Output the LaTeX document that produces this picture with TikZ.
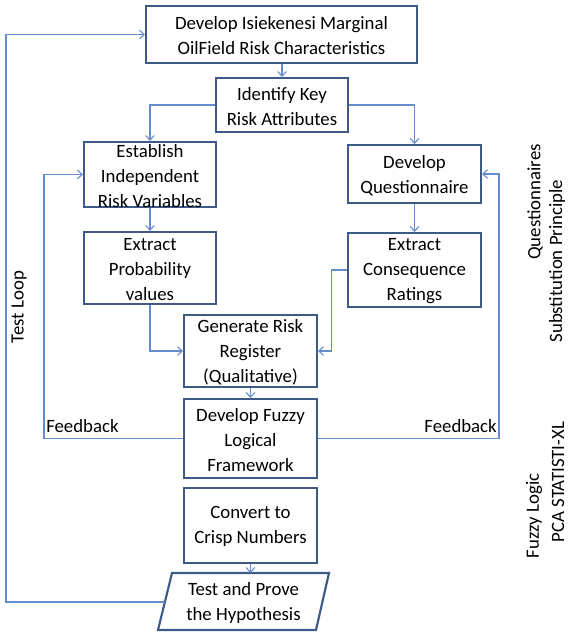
\documentclass[tikz,border=0pt]{standalone}
\usepackage{fontspec}
\setmainfont{Carlito}
\usetikzlibrary{arrows.meta}
\definecolor{boxc}{RGB}{62,90,135}
\definecolor{linec}{RGB}{100,140,205}
\begin{document}
\begin{tikzpicture}[x=0.75pt,y=-0.75pt,
  box/.style 2 args={draw=boxc,line width=1.6pt,rectangle,inner sep=0pt,minimum width=0.75*#1pt,minimum height=0.75*#2pt},
  txt/.style={inner sep=0pt,align=center,yshift=-1pt,font=\fontsize{14.1pt}{18.75pt}\selectfont},
  conn/.style={draw=linec,line width=0.8pt,-{Straight Barb[length=3.5pt,width=6.5pt]}},
  lbl/.style={inner sep=0pt,font=\fontsize{14.1pt}{18.75pt}\selectfont}]
\useasboundingbox (0,0) rectangle (568,632);
% boxes
\node[box={271}{57}] (top) at (281.5,34.5) {};
\node[txt] (topt) at (top) {Develop Isiekenesi Marginal\\OilField Risk Characteristics};
\node[box={132}{54}] (ident) at (282,105) {};
\node[txt] (identt) at (ident) {Identify Key\\Risk Attributes};
\node[box={132}{65}] (est) at (150,174.5) {};
\node[txt] (estt) at (est) {Establish\\Independent\\Risk Variables};
\node[box={133}{58}] (quest) at (414.5,174) {};
\node[txt] (questt) at (quest) {Develop\\Questionnaire};
\node[box={132}{72}] (prob) at (150,268) {};
\node[txt] (probt) at (prob) {Extract\\Probability\\values};
\node[box={133}{74}] (cons) at (414.5,270) {};
\node[txt] (const) at (cons) {Extract\\Consequence\\Ratings};
\node[box={133}{72}] (gen) at (250.5,351) {};
\node[txt] (gent) at (gen) {Generate Risk\\Register\\(Qualitative)};
\node[box={133}{79}] (fuzzy) at (250.5,438.5) {};
\node[txt] (fuzzyt) at (fuzzy) {Develop Fuzzy\\Logical\\Framework};
\node[box={133}{75}] (conv) at (250.5,525.5) {};
\node[txt] (convt) at (conv) {Convert to\\Crisp Numbers};
% parallelogram
\coordinate (pbl) at (158,630);
\coordinate (ptl) at (172,573);
\coordinate (ptr) at (329,573);
\coordinate (pbr) at (316,630);
\draw[boxc,line width=1.6pt,line join=miter] (pbl) -- (ptl) -- (ptr) -- (pbr) -- cycle;
\node[txt] (test) at (243.5,601.5) {Test and Prove\\the Hypothesis};
\coordinate (testtop) at (250.5,573);
\coordinate (testleft) at (165,602);
% connectors
\draw[conn] (top.south -| ident) -- (ident.north);
\draw[conn] (ident.west) -| (est.north);
\draw[conn] (ident.east) -| (quest.north);
\draw[conn] (est) -- (prob);
\draw[conn] (quest) -- (cons);
\draw[conn] (prob.south) |- (gen.west);
\draw[conn] (cons.west) -- ++(-15,0) |- (gen.east);
\draw[conn] (gen) -- (fuzzy);
\draw[conn] (conv.south) -- (testtop);
\coordinate (fbL) at (44,174.5);
\coordinate (fbR) at (499,174);
\draw[conn] (fuzzy.west) -| (fbL) -- (est.west);
\draw[conn] (fuzzy.east) -| (fbR) -- (quest.east);
\coordinate (loopc) at (6,34.5);
\draw[conn] (testleft) -| (loopc) -- (top.west);
% labels
\node[lbl,anchor=west] (fbl) at (46,426) {Feedback};
\node[lbl,anchor=east] (fbr) at (497,426) {Feedback};
\node[lbl,rotate=90] (loop) at (19,307) {Test Loop};
\node[lbl,rotate=90] (q1) at (535,202) {Questionnaires};
\node[lbl,rotate=90] (q2) at (557,261) {Substitution Principle};
\node[lbl,rotate=90] (f1) at (534,516) {Fuzzy Logic};
\node[lbl,rotate=90] (f2) at (558,482) {PCA STATISTI-XL};
\end{tikzpicture}
\end{document}
